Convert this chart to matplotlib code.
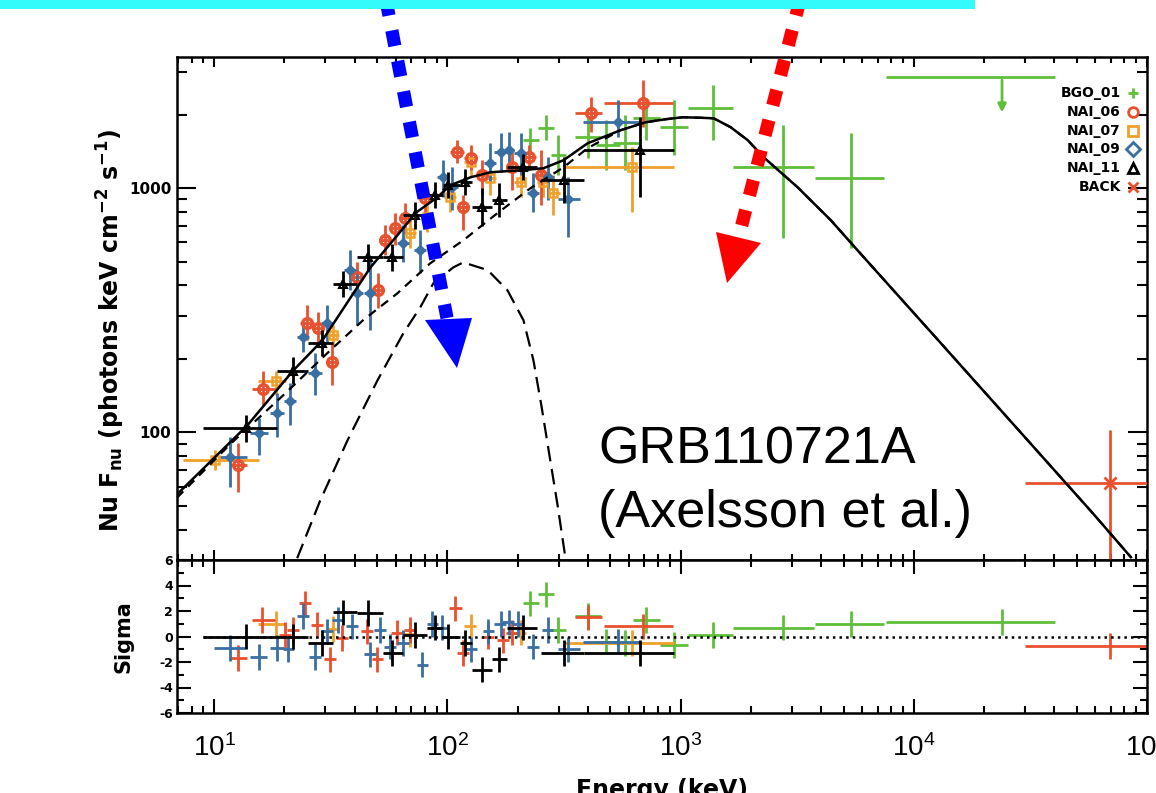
import matplotlib
matplotlib.use('Agg')
import matplotlib.pyplot as plt
import numpy as np
from matplotlib import font_manager
from matplotlib.lines import Line2D
from matplotlib.patches import Polygon, Rectangle
from matplotlib.ticker import FuncFormatter, NullFormatter, MultipleLocator, LogLocator

installed = {f.name for f in font_manager.fontManager.ttflist}
narrow = 'Liberation Sans Narrow' if 'Liberation Sans Narrow' in installed else 'Liberation Sans'

plt.rcParams['font.family'] = ['Liberation Sans', 'DejaVu Sans']
plt.rcParams['mathtext.fontset'] = 'custom'
plt.rcParams['mathtext.rm'] = narrow
plt.rcParams['mathtext.bf'] = narrow + ':bold'
plt.rcParams['mathtext.it'] = narrow + ':italic'

##########################################################################
# model curves
tot_E = [6.93, 13.9, 21.8, 29.1, 46.8, 61.0, 72.9, 90.6, 103, 126, 153, 206, 258, 315, 399, 552, 708,
         863, 1021, 1219, 1387, 1641, 1941, 2270, 3177, 4406, 5636, 13060, 27670, 58600, 85300]
tot_F = [55.7, 107, 179, 238, 474, 641, 791, 919, 1029, 1110, 1163, 1185, 1208, 1303, 1528, 1728, 1864,
         1918, 1954, 1945, 1935, 1778, 1574, 1340, 1009, 740, 568, 232, 104, 46.6, 30.8]

band_E = [6.93, 11.7, 19.8, 31.5, 43.5, 61.0, 84.5, 117, 164, 227, 315, 399, 552, 708, 863, 1021, 1219,
          1387, 1641, 1941, 2270, 3177, 4406, 5636, 13060, 27670, 58600, 85300]
band_F = [54.0, 89.3, 142, 217, 288, 371, 493, 612, 791, 1000, 1219, 1459, 1728, 1864, 1918, 1954, 1945,
          1935, 1778, 1574, 1340, 1009, 740, 568, 232, 104, 46.6, 30.8]

bb_E = [22.7, 28.5, 37.3, 50.1, 64.8, 76.5, 87.1, 106, 117, 149, 181, 212, 234, 253, 274, 297, 321]
bb_F = [30.5, 52.6, 92.7, 163, 255, 325, 408, 474, 497, 462, 382, 288, 197, 129, 80.5, 50.2, 30.5]

##########################################################################
# detectors: energy, energy bin edges, flux and flux error range
nai11_E   = [13.7, 21.8, 29.1, 35.8, 45.8, 58.1, 72.9, 88.7, 101, 119, 141, 167, 212, 315, 673]
nai11_Elo = [8.97, 18.6, 25.3, 32.4, 41.1, 53.1, 64.7, 82.0, 96.1, 113, 128, 156, 181, 251, 384]
nai11_Ehi = [18.6, 25.3, 32.4, 41.1, 53.1, 64.7, 82.0, 96.1, 113, 128, 156, 181, 243, 384, 933]
nai11_F   = [104, 179, 232, 404, 521, 521, 774, 936, 1029, 1058, 836, 893, 1219, 1079, 1431]
nai11_Flo = [91, 158, 205, 357, 460, 460, 684, 827, 909, 935, 700, 760, 1077, 872, 919]
nai11_Fhi = [118, 203, 262, 457, 589, 589, 875, 1058, 1163, 1196, 1000, 1050, 1378, 1340, 1954]

nai06_E   = [12.7, 16.2, 25.1, 27.9, 32.1, 41.1, 50.6, 54.2, 59.8, 66.1, 80.5, 110, 117, 126, 141, 190, 223, 251, 411, 693]
nai06_Elo = [11.7, 14.6, 23.4, 26.4, 30.3, 38.7, 47.6, 51.0, 56.4, 62.2, 75.9, 103, 110, 118, 133, 179, 208, 236, 354, 468]
nai06_Ehi = [13.9, 18.3, 26.8, 29.6, 34.0, 43.6, 53.7, 57.5, 63.5, 70.0, 85.3, 118, 124, 133, 150, 202, 239, 266, 462, 924]
nai06_F   = [73.3, 151, 280, 267, 194, 431, 382, 612, 685, 754, 910, 1406, 836, 1327, 1130, 1219, 1340, 1130, 2028, 2228]
nai06_Flo = [56.8, 129, 238, 228, 156, 364, 322, 531, 583, 655, 791, 1266, 673, 1185, 936, 981, 1185, 851, 1698, 1778]
nai06_Fhi = [90.2, 179, 332, 311, 232, 497, 449, 705, 791, 869, 1048, 1573, 936, 1500, 1303, 1431, 1500, 1431, 2362, 2773]

nai07_E   = [10.1, 18.5, 32.4, 69.3, 82.0, 103, 126, 153, 206, 258, 285, 622]
nai07_Elo = [7.36, 15.4, 30.5, 65.3, 77.3, 97.1, 118, 144, 194, 243, 269, 315]
nai07_Ehi = [15.6, 20.4, 34.4, 73.6, 87.1, 109, 133, 162, 218, 274, 303, 933]
nai07_F   = [77.4, 163, 250, 655, 760, 919, 1278, 1099, 1058, 1058, 955, 1219]
nai07_Flo = [69.8, 142, 228, 568, 661, 797, 1110, 936, 920, 920, 774, 797]
nai07_Fhi = [84.3, 179, 275, 740, 851, 1048, 1459, 1266, 1200, 1200, 1130, 1470]

nai09_E   = [11.7, 15.5, 18.6, 21.2, 24.1, 27.1, 30.5, 38.4, 41.1, 46.8, 64.7, 76.6, 96.1, 105, 153, 169, 183, 206, 234, 271, 330, 537]
nai09_Elo = [10.4, 14.3, 17.4, 20.0, 22.7, 25.3, 28.8, 36.1, 38.7, 44.0, 61.0, 72.1, 90.6, 99.1, 144, 159, 172, 194, 220, 256, 297, 380]
nai09_Ehi = [13.9, 17.1, 20.0, 22.5, 25.6, 29.1, 32.4, 40.6, 43.6, 49.5, 68.7, 81.3, 102, 111, 162, 179, 194, 218, 248, 288, 372, 673]
nai09_F   = [79.1, 99.1, 120, 135, 245, 175, 280, 461, 371, 371, 596, 557, 1110, 1009, 1266, 1406, 1431, 1390, 955, 1110, 901, 1864]
nai09_Flo = [59.6, 80.5, 95.5, 107, 213, 142, 232, 382, 275, 262, 497, 449, 919, 813, 1048, 1163, 1180, 1130, 797, 893, 630, 1618]
nai09_Fhi = [95.5, 114, 145, 159, 280, 211, 332, 557, 461, 507, 705, 673, 1303, 1219, 1528, 1679, 1700, 1679, 1152, 1340, 1110, 2296]

bgo01_E   = [227, 264, 299, 399, 477, 580, 708, 933, 1371, 2742, 5370]
bgo01_Elo = [210, 244, 277, 354, 432, 511, 628, 820, 1081, 1686, 3758]
bgo01_Ehi = [246, 286, 324, 454, 552, 673, 820, 1072, 1686, 3724, 7430]
bgo01_F   = [1573, 1762, 1365, 1618, 1500, 1528, 1935, 1778, 2128, 1219, 1099]
bgo01_Flo = [1406, 1573, 1130, 1327, 1185, 1185, 1573, 1365, 1573, 624, 568]
bgo01_Fhi = [1762, 1991, 1649, 1935, 1900, 1991, 2296, 2296, 2642, 1811, 1679]

# BGO upper limit
ul_E, ul_Elo, ul_Ehi, ul_F, ul_Fto = 23900, 7590, 40300, 2851, 1991

back_E, back_Elo, back_Ehi = [69300], [29900], [160000]
back_F, back_Flo, back_Fhi = [61.8], [20.0], [102]

##########################################################################
# residuals (sigma)
res11 = [0.0, 0.0, -0.5, 1.9, 1.85, -1.3, 0.1, 0.7, 0.0, -0.5, -2.6, -1.8, 0.7, -1.3, -1.3]
res_bgo = [2.6, 3.3, 0.5, 1.6, -0.4, -0.5, 1.3, -0.65, 0.1, 0.7, 1.0]
res_ul = 1.15

res06_E   = [12.7, 16.1, 20.2, 21.8, 24.6, 27.7, 31.5, 35.4, 45.4, 50.1, 61.0, 69.3, 108, 117, 149, 174, 190, 399, 693]
res06_Elo = [11.7, 14.6, 19.0, 20.5, 23.2, 26.1, 29.7, 33.4, 42.8, 47.3, 57.5, 65.4, 102, 110, 141, 164, 179, 354, 468]
res06_Ehi = [13.9, 18.3, 21.4, 23.1, 26.1, 29.4, 33.4, 37.5, 48.1, 53.1, 64.7, 73.5, 115, 124, 158, 184, 201, 462, 924]
res06     = [-1.7, 1.3, 0.1, 0.5, 2.6, 0.9, -1.8, -0.1, 0.4, -1.8, 0.3, 0.5, 2.2, -1.3, 0.0, -0.3, 0.3, 1.5, 0.8]

res09_E   = [11.7, 15.5, 18.6, 20.8, 24.1, 27.1, 30.5, 34.0, 39.1, 46.8, 51.5, 56.9, 64.7, 78.2, 86.3, 95.3, 126, 150, 169, 183, 200, 234, 269, 330, 537]
res09_Elo = [10.0, 14.3, 17.4, 19.7, 22.7, 25.6, 28.8, 32.1, 36.9, 44.0, 48.6, 53.7, 61.0, 73.8, 81.4, 89.9, 119, 142, 159, 172, 189, 220, 254, 297, 380]
res09_Ehi = [13.5, 16.8, 19.9, 22.0, 25.6, 28.7, 32.3, 36.0, 41.4, 49.6, 54.6, 60.3, 68.6, 82.9, 91.5, 101, 134, 159, 179, 194, 212, 248, 285, 372, 673]
res09     = [-0.9, -1.6, -0.9, -1.0, 1.6, -1.6, 0.4, 1.3, 0.8, -1.4, 0.5, -0.8, -0.5, -2.2, 1.0, 0.7, -1.0, 0.4, 1.0, 1.1, 1.0, -0.8, 0.5, -1.0, -0.4]

res07_E   = [18.5, 32.4, 69.3, 126, 206, 622]
res07_Elo = [15.4, 30.5, 65.3, 118, 194, 315]
res07_Ehi = [20.4, 34.4, 73.6, 133, 218, 933]
res07     = [1.0, 0.6, 0.2, 0.8, 0.3, -0.5]

res_back = [-0.75]

##########################################################################
c_bgo = '#5fbf3a'
c_n06 = '#e8502e'
c_n07 = '#f0a12c'
c_n09 = '#3a6fa3'
c_n11 = 'k'
c_back = '#e8502e'
idl = 'DejaVu Sans'   # wide bold font for the plot annotations

W, H = 1156, 793
fig = plt.figure(figsize=(W / 100, H / 100), dpi=100)
ax = fig.add_axes([177 / W, 1 - 560 / H, 970 / W, 503 / H])
ax2 = fig.add_axes([177 / W, 1 - 713 / H, 970 / W, 153 / H], sharex=ax)


def rng(v, lo, hi):
    v = np.array(v, dtype=float)
    return [v - np.array(lo, dtype=float), np.array(hi, dtype=float) - v]


def pts(a, E, Elo, Ehi, F, Flo, Fhi, col, fmt, **kw):
    a.errorbar(E, F, xerr=rng(E, Elo, Ehi), yerr=rng(F, Flo, Fhi), fmt=fmt, color=col,
               ecolor=col, elinewidth=2.0, capsize=0, **kw)


def res(a, E, Elo, Ehi, s, col, **kw):
    a.errorbar(E, s, xerr=rng(E, Elo, Ehi), yerr=1.0, fmt='none', ecolor=col,
               elinewidth=2.0, capsize=0, **kw)


# main panel
pts(ax, bgo01_E, bgo01_Elo, bgo01_Ehi, bgo01_F, bgo01_Flo, bgo01_Fhi, c_bgo, 'none', zorder=2)
ax.hlines(ul_F, ul_Elo, ul_Ehi, color=c_bgo, lw=2.0, zorder=2)
ax.annotate('', xy=(ul_E, ul_Fto), xytext=(ul_E, ul_F),
            arrowprops=dict(arrowstyle='-|>', color=c_bgo, lw=2.0, mutation_scale=12))
pts(ax, nai07_E, nai07_Elo, nai07_Ehi, nai07_F, nai07_Flo, nai07_Fhi, c_n07, 's',
    ms=6, mfc='none', mew=1.8, zorder=3)
pts(ax, nai06_E, nai06_Elo, nai06_Ehi, nai06_F, nai06_Flo, nai06_Fhi, c_n06, 'o',
    ms=7, mfc='none', mew=2.4, zorder=3)
pts(ax, nai09_E, nai09_Elo, nai09_Ehi, nai09_F, nai09_Flo, nai09_Fhi, c_n09, 'D',
    ms=5.5, zorder=3)
pts(ax, nai11_E, nai11_Elo, nai11_Ehi, nai11_F, nai11_Flo, nai11_Fhi, c_n11, '^',
    ms=6, mfc='none', mew=1.5, zorder=4)
pts(ax, back_E, back_Elo, back_Ehi, back_F, back_Flo, back_Fhi, c_back, 'x', ms=8, mew=2, zorder=3)

ax.plot(band_E, band_F, color='k', lw=1.6, ls=(0, (4, 3)), zorder=5)
ax.plot(bb_E, bb_F, color='k', lw=1.6, ls=(0, (7, 3.5)), zorder=5)
ax.plot(tot_E, tot_F, color='k', lw=1.8, zorder=6)

ax.set_xscale('log')
ax.set_yscale('log')
ax.set_xlim(6.93, 1e5)
ax.set_ylim(30, 3450)
ax.yaxis.set_major_locator(LogLocator(base=10))
ax.yaxis.set_minor_locator(LogLocator(base=10, subs=np.arange(2, 10)))
ax.yaxis.set_major_formatter(FuncFormatter(lambda v, p: '%d' % v))
ax.yaxis.set_minor_formatter(NullFormatter())
ax.tick_params(which='both', direction='in', top=True, right=True, width=1.5,
               labelbottom=False)
ax.tick_params(axis='y', which='major', length=14, labelsize=11, pad=4)
ax.tick_params(axis='y', which='minor', length=7)
ax.tick_params(axis='x', which='major', length=7)
ax.tick_params(axis='x', which='minor', length=4)
for t in ax.get_yticklabels():
    t.set_fontweight('bold')
    t.set_family(idl)
ax.set_ylabel(r'Nu F$_{\mathbf{nu}}$ (photons keV cm$^{\mathbf{-2}}$ s$^{\mathbf{-1}}$)',
              fontsize=17, fontweight='bold', family=idl, math_fontfamily='dejavusans')
ax.yaxis.set_label_coords(-0.052, 0.457)

# residual panel
res(ax2, bgo01_E, bgo01_Elo, bgo01_Ehi, res_bgo, c_bgo)
res(ax2, [ul_E], [ul_Elo], [ul_Ehi], [res_ul], c_bgo)
res(ax2, res07_E, res07_Elo, res07_Ehi, res07, c_n07)
res(ax2, res06_E, res06_Elo, res06_Ehi, res06, c_n06)
res(ax2, res09_E, res09_Elo, res09_Ehi, res09, c_n09)
res(ax2, nai11_E, nai11_Elo, nai11_Ehi, res11, c_n11)
res(ax2, back_E, back_Elo, back_Ehi, res_back, c_back)
ax2.plot([nai11_Elo[0], 1e5], [0, 0], color='k', lw=1.8, ls=':', zorder=5)

ax2.set_ylim(-6, 6)
ax2.yaxis.set_major_locator(MultipleLocator(2))
ax2.yaxis.set_minor_locator(MultipleLocator(1))
ax2.yaxis.set_major_formatter(FuncFormatter(lambda v, p: '%d' % v))
ax2.tick_params(which='both', direction='in', top=True, right=True, width=1.5)
ax2.tick_params(axis='y', which='major', length=10, labelsize=9, pad=3)
ax2.tick_params(axis='y', which='minor', length=5)
ax2.tick_params(axis='x', which='major', length=10, labelsize=20, pad=15)
ax2.tick_params(axis='x', which='minor', length=5)
for t in ax2.get_yticklabels():
    t.set_fontweight('bold')
    t.set_family(idl)
ax2.set_ylabel('Sigma', fontsize=15, fontweight='bold', family=idl)
ax2.yaxis.set_label_coords(-0.045, 0.5)
ax2.set_xlabel('Energy (keV)', fontsize=17, fontweight='bold', family=idl, labelpad=12)

for a in (ax, ax2):
    for s in a.spines.values():
        s.set_linewidth(1.8)

# legend (right aligned labels, symbols on the right)
leg_lab = ['BGO_01', 'NAI_06', 'NAI_07', 'NAI_09', 'NAI_11', 'BACK']
leg_col = [c_bgo, c_n06, c_n07, c_n09, c_n11, c_back]
leg_mk = ['+', 'o', 's', 'D', '^', 'x']
for i in range(len(leg_lab)):
    yy = 1 - (93 + i * 18.8) / H
    fig.text(1121 / W, yy, leg_lab[i], ha='right', va='center', fontsize=10,
             fontweight='bold', family=idl)
    fig.add_artist(Line2D([1133 / W], [yy], transform=fig.transFigure, marker=leg_mk[i],
                          color=leg_col[i], mfc='none', mew=2, ms=7, ls='none'))

# annotation text
fig.text(598 / W, 1 - 463 / H, 'GRB110721A', fontsize=37.5, va='baseline', ha='left')
fig.text(598 / W, 1 - 527 / H, '(Axelsson et al.)', fontsize=37.5, va='baseline', ha='left')


# slide decorations: cyan bar and dashed arrows
def px(x, y):
    return (x / W, 1 - y / H)


fig.add_artist(Rectangle(px(0, 9), 975 / W, 9 / H, transform=fig.transFigure,
                         facecolor='#33fbfb', edgecolor='none', zorder=20))
for (x0, y0, x1, y1, head, col) in [
        (386, 0, 447, 318, [(425, 320), (472, 318), (457, 368)], '#0000ff'),
        (800, 0, 740, 232, [(716, 232), (761, 243), (727, 283)], '#ff0000')]:
    a0, b0 = px(x0, y0)
    a1, b1 = px(x1, y1)
    fig.add_artist(Line2D([a0, a1], [b0, b1], transform=fig.transFigure, color=col,
                          lw=9.5, dashes=(1.2, 1.15), zorder=15))
    fig.add_artist(Polygon([px(*p) for p in head], closed=True, transform=fig.transFigure,
                           facecolor=col, edgecolor='none', zorder=15))

fig.savefig('out.png', dpi=100)
